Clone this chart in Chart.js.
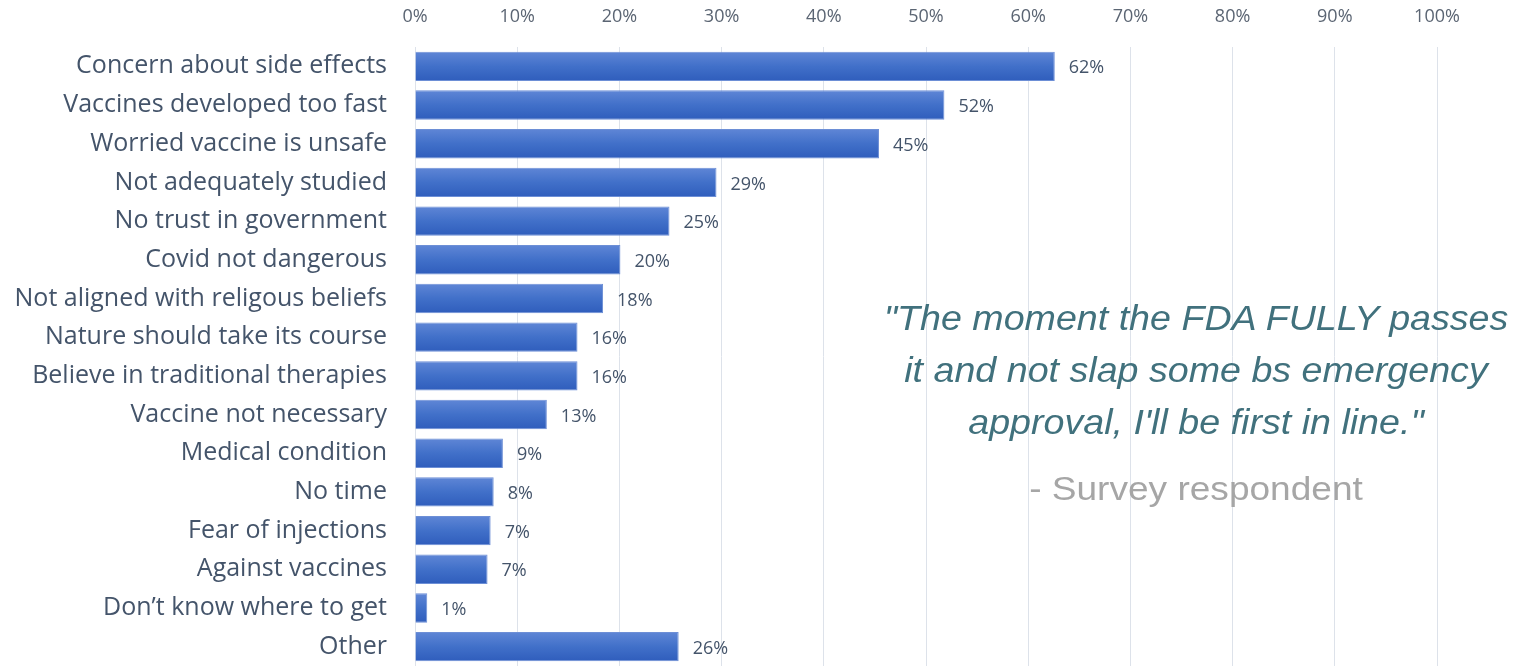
<!DOCTYPE html>
<html>
<head>
<meta charset="utf-8">
<script src="https://cdn.jsdelivr.net/npm/chart.js@4/dist/chart.umd.min.js"></script>
<style>
  html, body { margin: 0; padding: 0; background: #fff; overflow: hidden; }
  #wrap { position: relative; width: 1526px; height: 666px; }
  #reasons { display: block; }
  #quote {
    position: absolute; left: 866px; top: 292px; width: 660px;
    text-align: center; font-family: "Liberation Sans", Arial, sans-serif;
    font-style: italic; font-size: 35px; line-height: 52px; color: #41717d;
    transform: scaleX(1.075); transform-origin: 330px 0;
  }
  #who {
    position: absolute; left: 866px; top: 466px; width: 660px;
    text-align: center; font-family: "Liberation Sans", Arial, sans-serif;
    font-size: 34px; line-height: 44px; color: #a6a6a6;
    transform: scaleX(1.09); transform-origin: 330px 0;
  }
</style>
</head>
<body>
<div id="wrap">
  <canvas id="reasons" width="1526" height="666"></canvas>
  <div id="quote">"The moment the FDA FULLY passes<br>it and not slap some bs emergency<br>approval, I'll be first in line."</div>
  <div id="who">- Survey respondent</div>
</div>
<script>
// reasons for not getting vaccinated, share of respondents (%)
var reasons = [
  'Concern about side effects', 'Vaccines developed too fast', 'Worried vaccine is unsafe',
  'Not adequately studied', 'No trust in government', 'Covid not dangerous',
  'Not aligned with religous beliefs', 'Nature should take its course', 'Believe in traditional therapies',
  'Vaccine not necessary', 'Medical condition', 'No time', 'Fear of injections',
  'Against vaccines', 'Don\u2019t know where to get', 'Other'
];
var shares = [62.6, 51.8, 45.4, 29.5, 24.9, 20.1, 18.4, 15.9, 15.9, 12.9, 8.6, 7.7, 7.4, 7.1, 1.2, 25.8];
var shareLabels = ['62%', '52%', '45%', '29%', '25%', '20%', '18%', '16%', '16%', '13%', '9%', '8%', '7%', '7%', '1%', '26%'];

// vertical gradient per bar, like the office chart style
var barGradient = {
  id: 'barGradient',
  beforeDatasetsDraw: function(chart) {
    var ctx = chart.ctx;
    chart.getDatasetMeta(0).data.forEach(function(bar) {
      var top = bar.y - bar.height / 2, bottom = bar.y + bar.height / 2;
      var g = ctx.createLinearGradient(0, top, 0, bottom);
      g.addColorStop(0, '#5f86d6');
      g.addColorStop(0.5, '#4170c9');
      g.addColorStop(1, '#2f5dbc');
      bar.options.backgroundColor = g;
    });
  }
};

// value labels right of each bar
var valueLabels = {
  id: 'valueLabels',
  afterDatasetsDraw: function(chart) {
    var ctx = chart.ctx;
    ctx.save();
    ctx.font = '18px "Open Sans"';
    ctx.fillStyle = '#44546a';
    ctx.textBaseline = 'middle';
    ctx.textAlign = 'left';
    chart.getDatasetMeta(0).data.forEach(function(bar, i) {
      ctx.fillText(shareLabels[i], bar.x + 14, bar.y + 2);
    });
    ctx.restore();
  }
};

Chart.defaults.font.family = '"Open Sans"';
new Chart('reasons', {
  type: 'bar',
  data: {
    labels: reasons,
    datasets: [{
      data: shares,
      backgroundColor: function() { return '#4170c9'; },
      borderColor: '#6d8fd6',
      borderWidth: 1,
      categoryPercentage: 1,
      barPercentage: 0.76
    }]
  },
  options: {
    indexAxis: 'y',
    responsive: false,
    animation: false,
    layout: { padding: { left: 0, right: 89, top: 0, bottom: 0 } },
    plugins: { legend: { display: false }, tooltip: { enabled: false } },
    scales: {
      x: {
        position: 'top',
        min: 0, max: 100,
        border: { display: false },
        grid: { color: '#dde2ea', lineWidth: 1, drawTicks: false },
        ticks: {
          stepSize: 10,
          padding: 19,
          color: '#5b6573',
          font: { size: 18 },
          callback: function(v) { return v + '%'; }
        },
        afterFit: function(scale) { scale.height = 47; }
      },
      y: {
        border: { display: true, color: '#dde2ea' },
        grid: { display: false, drawTicks: false },
        ticks: { padding: 28, color: '#44546a', font: { size: 25 }, autoSkip: false },
        afterFit: function(scale) {
          scale.width = 415;
          scale.paddingTop = 0;
          scale.paddingBottom = 0;
        }
      }
    }
  },
  plugins: [barGradient, valueLabels]
});
</script>
</body>
</html>
